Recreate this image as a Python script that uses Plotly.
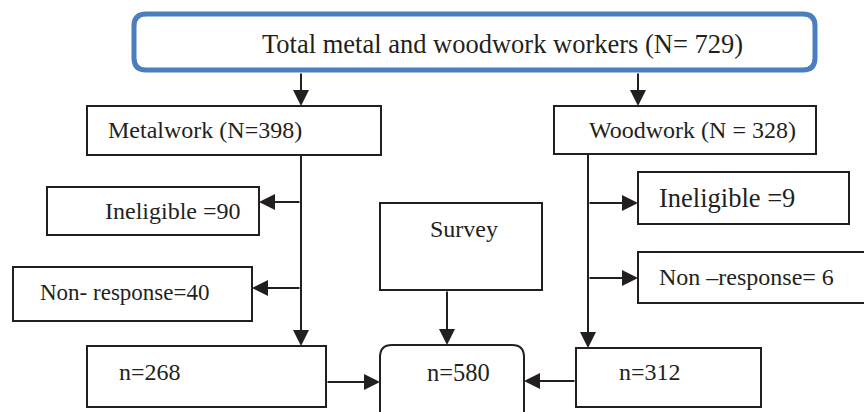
import plotly.graph_objects as go

# ---- content ----
labels = ["Total metal and woodwork workers (N= 729)", "Metalwork (N=398)", "Woodwork (N = 328)",
          "Ineligible =90", "Non- response=40", "Ineligible =9", "Non –response= 6",
          "Survey", "n=268", "n=580", "n=312"]

# ---- layout (pixel coordinates of the drawing) ----
box_x0 = [134, 87, 554, 47, 13, 638, 638, 380, 87, 380, 576]
box_x1 = [815, 381, 816, 259, 252, 849, 880, 542, 326, 524, 761]
box_y0 = [14, 106, 106, 187, 267, 172, 252, 203, 346, 345, 348]
box_y1 = [70, 155, 154, 235, 321, 224, 303, 290, 407, 430, 407]
rounded = [12, 0, 0, 0, 0, 0, 0, 0, 0, 12, 0]
text_x = [260, 106, 587, 103, 38, 657, 657, 428, 117, 425, 617]
text_y = [44, 130, 130, 211, 292, 198, 277, 229, 372, 372, 372]
text_size = [26.5, 24, 24, 24, 23, 26.5, 24, 24, 24, 24.5, 24]

# connector lines without heads (x0, y0, x1, y1)
plain_lines = [(301, 155, 301, 330), (588, 154, 588, 330)]
# arrows: tail (x, y) -> head (x, y)
arrows = [(301, 72, 301, 106), (638, 72, 638, 106),
          (301, 202, 259, 202), (301, 288, 252, 288), (301, 320, 301, 346),
          (588, 203, 638, 203), (588, 278, 638, 278), (588, 320, 588, 348),
          (447, 290, 447, 345), (326, 382, 380, 382), (576, 381, 524, 381)]

INK = "#231f20"
BLUE = "#4a7ebf"

fig = go.Figure()
shapes = []
for i in range(len(labels)):
    x0, x1, y0, y1, r = box_x0[i], box_x1[i], box_y0[i], box_y1[i], rounded[i]
    color = BLUE if i == 0 else INK
    width = 5 if i == 0 else 2
    if r:
        path = (f"M{x0+r},{y0} L{x1-r},{y0} Q{x1},{y0} {x1},{y0+r} L{x1},{y1-r} Q{x1},{y1} {x1-r},{y1} "
                f"L{x0+r},{y1} Q{x0},{y1} {x0},{y1-r} L{x0},{y0+r} Q{x0},{y0} {x0+r},{y0} Z")
        shapes.append(dict(type="path", path=path, xref="x", yref="y",
                           line=dict(color=color, width=width), fillcolor="white"))
    else:
        shapes.append(dict(type="rect", x0=x0, x1=x1, y0=y0, y1=y1, xref="x", yref="y",
                           line=dict(color=color, width=width), fillcolor="white"))
for (a, b, c, d) in plain_lines:
    shapes.append(dict(type="line", x0=a, y0=b, x1=c, y1=d, xref="x", yref="y",
                       line=dict(color=INK, width=2)))

annotations = []
for (tx, ty, hx, hy) in arrows:
    annotations.append(dict(x=hx, y=hy, ax=tx, ay=ty, xref="x", yref="y", axref="x", ayref="y",
                            showarrow=True, arrowhead=2, arrowsize=1.6, arrowwidth=2,
                            arrowcolor=INK, text="", standoff=0, startstandoff=0))
for i, lab in enumerate(labels):
    annotations.append(dict(x=text_x[i], y=text_y[i], xref="x", yref="y", text=lab,
                            showarrow=False, xanchor="left", yanchor="middle",
                            font=dict(family="Liberation Serif, Times New Roman, serif",
                                      size=text_size[i], color=INK)))

fig.update_layout(width=864, height=412, margin=dict(l=0, r=0, t=0, b=0),
                  paper_bgcolor="white", plot_bgcolor="white",
                  shapes=shapes, annotations=annotations, showlegend=False)
fig.update_xaxes(range=[0, 864], visible=False, fixedrange=True)
fig.update_yaxes(range=[412, 0], visible=False, fixedrange=True)
fig.write_html("out.html", config={"displayModeBar": False, "staticPlot": True},
               post_script="document.body.style.margin='0';document.body.style.overflow='hidden';")
